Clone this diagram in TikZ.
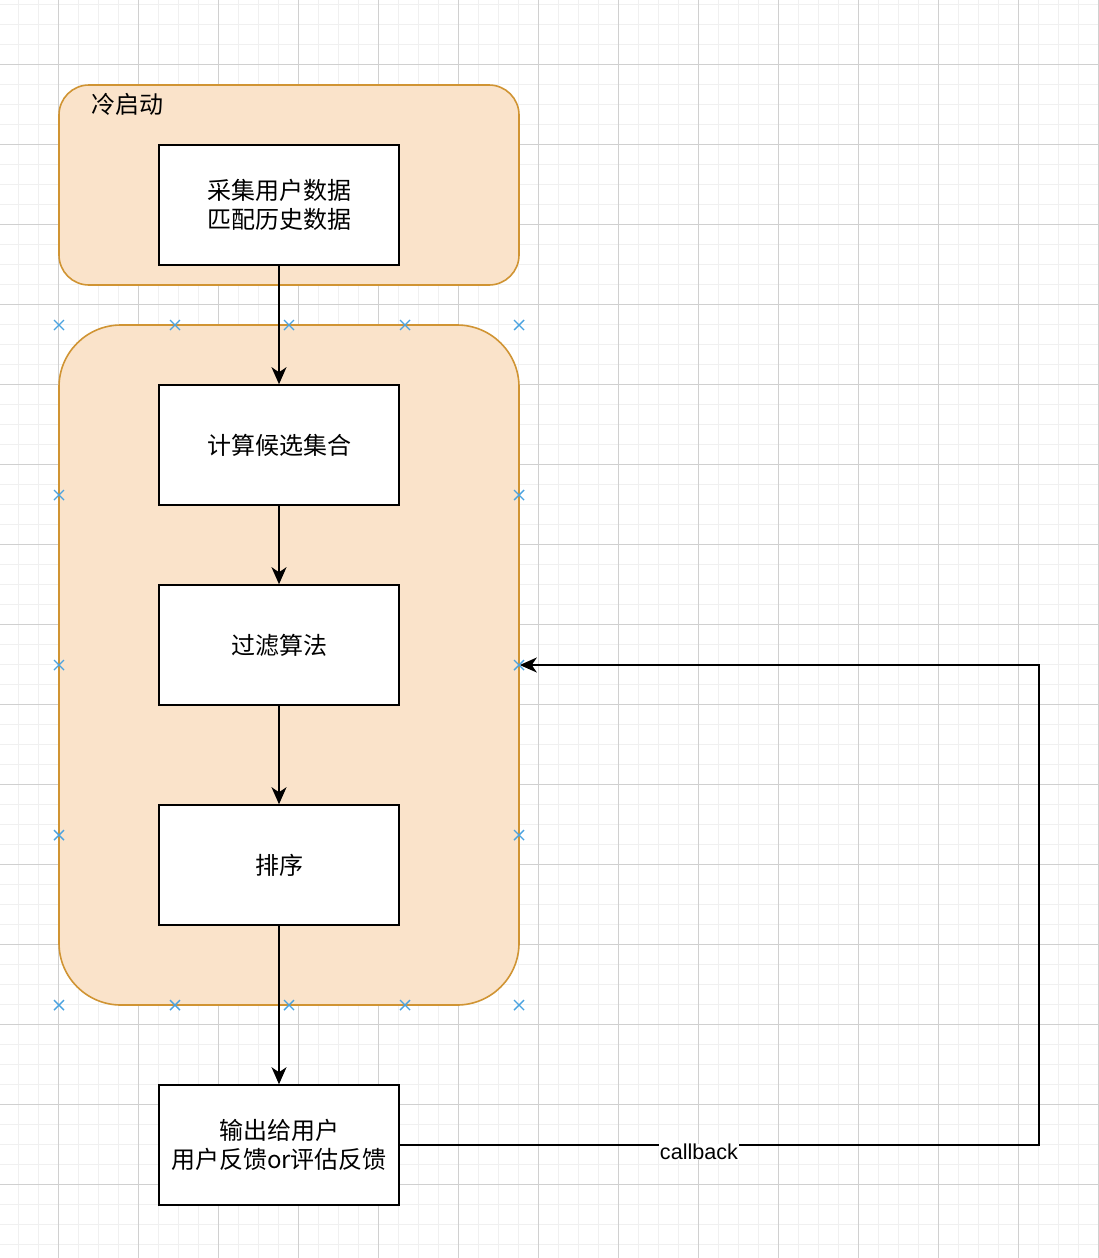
\documentclass[tikz,border=0pt]{standalone}
\usepackage{fontspec}
\newfontfamily\cjk{Noto Sans CJK SC}
\newfontfamily\lib{Liberation Sans}
\usetikzlibrary{arrows.meta}
\definecolor{gridminor}{HTML}{F0F0F0}
\definecolor{gridmajor}{HTML}{D0D0D0}
\definecolor{contfill}{HTML}{FAE3CA}
\definecolor{contline}{HTML}{D09433}
\definecolor{handle}{HTML}{4AA3E0}
\tikzset{
  stepbox/.style={draw=black, line width=1.6pt, fill=white, minimum width=240pt, minimum height=120pt, inner sep=0pt, font=\cjk\fontsize{24}{29}\selectfont, align=center},
  container/.style={draw=contline, line width=1.6pt, fill=contfill, inner sep=0pt},
  flow/.style={line width=1.6pt, -{Stealth[length=17pt,width=15pt,inset=5pt]}},
  handlemark/.style={draw=handle, line width=1.4pt}
}
\begin{document}
\begin{tikzpicture}[x=1pt,y=-1pt]
\useasboundingbox (0,0) rectangle (1098,1258);
\fill[white] (0,0) rectangle (1098,1258);
% grid
\foreach \x in {18,38,...,1098} \draw[gridminor, line width=1pt] (\x,0) -- (\x,1258);
\foreach \y in {4,24,...,1258} \draw[gridminor, line width=1pt] (0,\y) -- (1098,\y);
\foreach \x in {58,138,...,1098} \draw[gridmajor, line width=1pt] (\x,0) -- (\x,1258);
\foreach \y in {64,144,...,1258} \draw[gridmajor, line width=1pt] (0,\y) -- (1098,\y);
% containers
\node[container, rounded corners=30pt, minimum width=460pt, minimum height=200pt] (cold) at (289,185) {};
\node[font=\cjk\fontsize{24}{28}\selectfont, anchor=west] (coldlabel) at (88,104) {冷启动};
\node[container, rounded corners=62pt, minimum width=460pt, minimum height=680pt] (main) at (289,665) {};
% steps
\node[stepbox] (collect) at (279,205) {采集用户数据\\匹配历史数据};
\node[stepbox] (cand) at (279,445) {计算候选集合};
\node[stepbox] (filter) at (279,645) {过滤算法};
\node[stepbox] (rank) at (279,865) {排序};
\node[stepbox] (output) at (279,1145) {输出给用户\\用户反馈or评估反馈};
% connectors
\draw[flow] (collect.south) -- (cand.north);
\draw[flow] (cand.south) -- (filter.north);
\draw[flow] (filter.south) -- (rank.north);
\draw[flow] (rank.south) -- (output.north);
\coordinate (cbr) at (1039,1145);
\coordinate (cbt) at (1039,665);
\draw[flow] (output.east) -- (cbr) -- (cbt) -- (main.east);
\node[fill=white, inner xsep=1pt, inner ysep=0pt, font=\lib\fontsize{21.6}{24}\selectfont] (cblabel) at (699,1152) {callback};
% selection handles
\foreach \hx/\hy in {59/325,175/325,289/325,405/325,519/325,59/495,519/495,59/665,519/665,59/835,519/835,59/1005,175/1005,289/1005,405/1005,519/1005}{
  \draw[handlemark] (\hx-5,\hy-5) -- (\hx+5,\hy+5) (\hx-5,\hy+5) -- (\hx+5,\hy-5);
}
\end{tikzpicture}
\end{document}
